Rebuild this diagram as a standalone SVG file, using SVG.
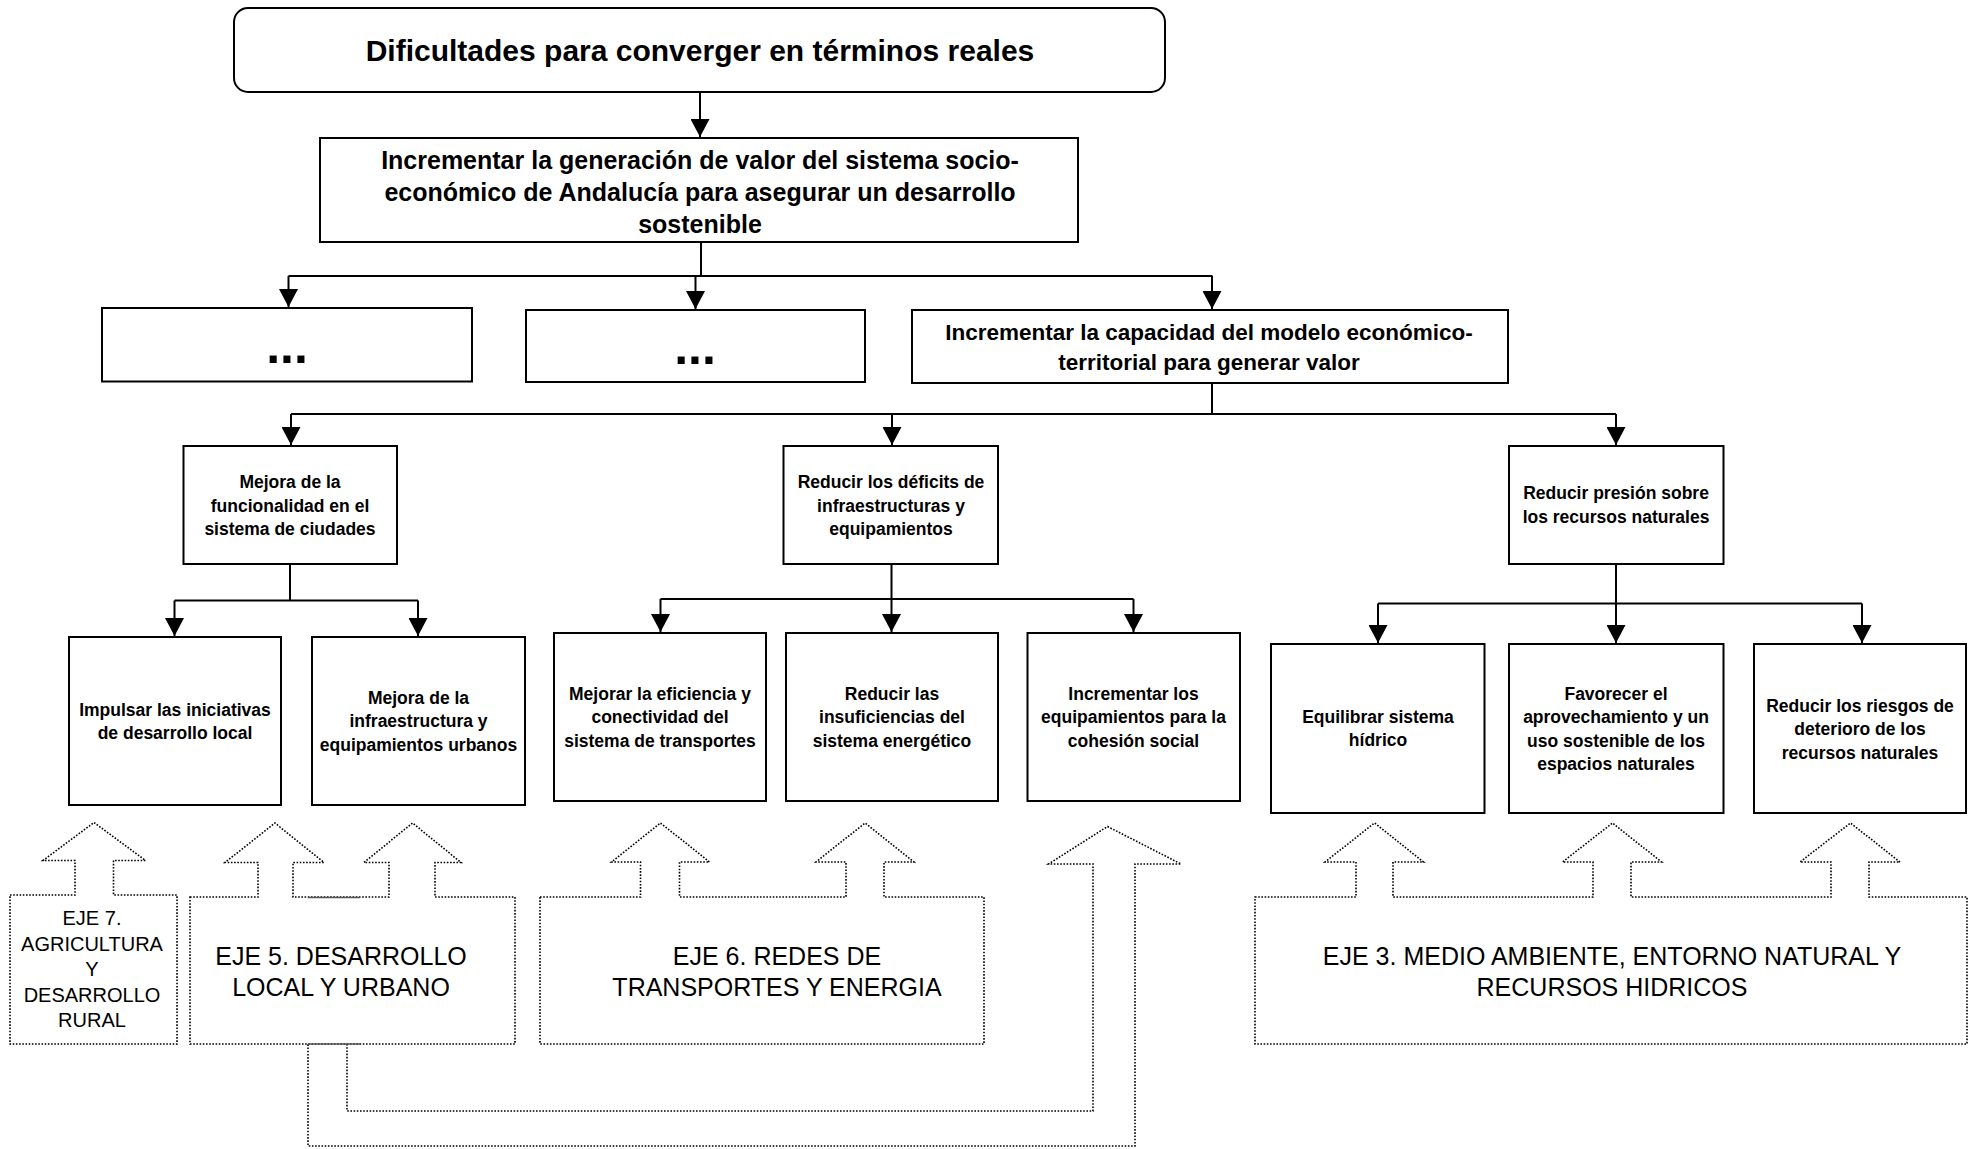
<svg xmlns="http://www.w3.org/2000/svg" width="1970" height="1149" viewBox="0 0 1970 1149">
<style>
.box{fill:#fff;stroke:#000;stroke-width:2}
.t{font-family:"Liberation Sans",Arial,sans-serif;font-weight:bold;fill:#000;text-anchor:middle}
.r{font-family:"Liberation Sans",Arial,sans-serif;fill:#000;text-anchor:middle}
.s{font-size:17.5px}
.c{fill:none;stroke:#000;stroke-width:2}
.a{fill:none;stroke:#000;stroke-width:2;marker-end:url(#ah)}
.dot{fill:#fff;stroke:#000;stroke-width:1.6;stroke-dasharray:1.6 1.6}
.dl{fill:none;stroke:#000;stroke-width:1.6;stroke-dasharray:1.6 1.6}
.mk{stroke:#555;stroke-width:1.5;fill:none}
</style>
<defs>
<marker id="ah" markerUnits="userSpaceOnUse" markerWidth="19" markerHeight="19" refX="18" refY="9.5" orient="auto">
<path d="M0,0 L18,9.5 L0,19 z" fill="#000"/>
</marker>
</defs>

<g id="connectors">
<path class="a" d="M700,92 V137"/>
<path class="c" d="M701,242 V276 M288.5,276 H1212.5"/>
<path class="a" d="M288.5,276 V307"/>
<path class="a" d="M695.5,276 V309"/>
<path class="a" d="M1212,276 V309"/>
<path class="c" d="M1212,383 V414 M291,414 H1616"/>
<path class="a" d="M291,414 V445"/>
<path class="a" d="M892,414 V445"/>
<path class="a" d="M1616,414 V445"/>
<path class="c" d="M290,564 V600.5 M174.5,600.5 H418"/>
<path class="a" d="M174.5,600.5 V636"/>
<path class="a" d="M418,600.5 V636"/>
<path class="c" d="M891.5,564 V599 M660.5,599 H1133.5"/>
<path class="a" d="M660.5,599 V632"/>
<path class="a" d="M891.5,599 V632"/>
<path class="a" d="M1133.5,599 V632"/>
<path class="c" d="M1616,564 V603.5 M1378,603.5 H1862"/>
<path class="a" d="M1378,603.5 V643"/>
<path class="a" d="M1616,603.5 V643"/>
<path class="a" d="M1862,603.5 V643"/>
<path id="eje5-to-k" class="dl" d="M347,1044 V1111 H1093 V864 H1048.5 L1107.5,826.5 L1181,864 H1135 V1146 H308 V1044"/>
</g>

<g id="n-title">
<rect class="box" x="234" y="8" width="931" height="84" rx="14"/>
<text class="t" x="700" y="61" font-size="30">Dificultades para converger en términos reales</text>
</g>
<g id="n-valor">
<rect class="box" x="320" y="138" width="758" height="104"/>
<text class="t" font-size="25"><tspan x="700" y="169">Incrementar la generación de valor del sistema socio-</tspan><tspan x="700" y="201">económico de Andalucía para asegurar un desarrollo</tspan><tspan x="700" y="233">sostenible</tspan></text>
</g>
<g id="n-dots1">
<rect class="box" x="102" y="308" width="370" height="73.5"/>
<text class="t" x="287" y="363" font-size="50">...</text>
</g>
<g id="n-dots2">
<rect class="box" x="526" y="310" width="339" height="72"/>
<text class="t" x="695" y="364" font-size="50">...</text>
</g>
<g id="n-capacidad">
<rect class="box" x="912" y="310" width="596" height="73"/>
<text class="t" font-size="22.5"><tspan x="1209" y="340">Incrementar la capacidad del modelo económico-</tspan><tspan x="1209" y="370">territorial para generar valor</tspan></text>
</g>
<g id="n-funcionalidad">
<rect class="box" x="183.5" y="446" width="213.5" height="118"/>
<text class="t s"><tspan x="290" y="488">Mejora de la</tspan><tspan x="290" y="511.5">funcionalidad en el</tspan><tspan x="290" y="535">sistema de ciudades</tspan></text>
</g>
<g id="n-deficits">
<rect class="box" x="783.5" y="446" width="214.5" height="118"/>
<text class="t s"><tspan x="891" y="488">Reducir los déficits de</tspan><tspan x="891" y="511.5">infraestructuras y</tspan><tspan x="891" y="535">equipamientos</tspan></text>
</g>
<g id="n-presion">
<rect class="box" x="1509" y="446" width="214.5" height="118"/>
<text class="t s"><tspan x="1616" y="499">Reducir presión sobre</tspan><tspan x="1616" y="523">los recursos naturales</tspan></text>
</g>
<g id="n-local">
<rect class="box" x="69" y="637" width="212" height="168"/>
<text class="t s"><tspan x="175" y="715.5">Impulsar las iniciativas</tspan><tspan x="175" y="738.5">de desarrollo local</tspan></text>
</g>
<g id="n-urbanos">
<rect class="box" x="312" y="637" width="213" height="168"/>
<text class="t s"><tspan x="418.5" y="703.5">Mejora de la</tspan><tspan x="418.5" y="727">infraestructura y</tspan><tspan x="418.5" y="750.5">equipamientos urbanos</tspan></text>
</g>
<g id="n-transportes">
<rect class="box" x="554" y="633" width="212" height="168"/>
<text class="t s"><tspan x="660" y="699.5">Mejorar la eficiencia y</tspan><tspan x="660" y="723">conectividad del</tspan><tspan x="660" y="746.5">sistema de transportes</tspan></text>
</g>
<g id="n-energetico">
<rect class="box" x="786" y="633" width="212" height="168"/>
<text class="t s"><tspan x="892" y="699.5">Reducir las</tspan><tspan x="892" y="723">insuficiencias del</tspan><tspan x="892" y="746.5">sistema energético</tspan></text>
</g>
<g id="n-cohesion">
<rect class="box" x="1027.5" y="633" width="212.5" height="168"/>
<text class="t s"><tspan x="1133.5" y="699.5">Incrementar los</tspan><tspan x="1133.5" y="723">equipamientos para la</tspan><tspan x="1133.5" y="746.5">cohesión social</tspan></text>
</g>
<g id="n-hidrico">
<rect class="box" x="1271" y="644" width="213.5" height="169"/>
<text class="t s"><tspan x="1378" y="722.5">Equilibrar sistema</tspan><tspan x="1378" y="746">hídrico</tspan></text>
</g>
<g id="n-espacios">
<rect class="box" x="1509" y="644" width="214.5" height="169"/>
<text class="t s"><tspan x="1616" y="699.5">Favorecer el</tspan><tspan x="1616" y="723">aprovechamiento y un</tspan><tspan x="1616" y="746.5">uso sostenible de los</tspan><tspan x="1616" y="770">espacios naturales</tspan></text>
</g>
<g id="n-riesgos">
<rect class="box" x="1754" y="644" width="212" height="169"/>
<text class="t s"><tspan x="1860" y="711.5">Reducir los riesgos de</tspan><tspan x="1860" y="735">deterioro de los</tspan><tspan x="1860" y="758.5">recursos naturales</tspan></text>
</g>

<g id="eje7">
<path class="dot" d="M10,895 H75 V860.5 H43 L94,822.5 L145.5,860.5 H113.5 V895 H177 V1044 H10 Z"/>
<text class="r" font-size="20"><tspan x="92" y="925">EJE 7.</tspan><tspan x="92" y="950.5">AGRICULTURA</tspan><tspan x="92" y="976">Y</tspan><tspan x="92" y="1001.5">DESARROLLO</tspan><tspan x="92" y="1027">RURAL</tspan></text>
</g>
<g id="eje5">
<path class="dot" d="M190,897 H258 V862.5 H225 L275,823 L324,862.5 H293 V897 H389 V862.5 H364 L412.5,823 L461,862.5 H435 V897 H515 V1044 H190 Z"/>
<path class="mk" d="M308,897.5 H360 M308,1044 H360"/>
<text class="r" font-size="25"><tspan x="341" y="965">EJE 5. DESARROLLO</tspan><tspan x="341" y="995.5">LOCAL Y URBANO</tspan></text>
</g>
<g id="eje6">
<path class="dot" d="M540,897 H640.5 V862 H611.5 L660.5,823 L709.5,862 H679.5 V897 H846 V862 H816 L865,823 L914,862 H884 V897 H984 V1044 H540 Z"/>
<text class="r" font-size="25"><tspan x="777" y="965">EJE 6. REDES DE</tspan><tspan x="777" y="995.5">TRANSPORTES Y ENERGIA</tspan></text>
</g>
<g id="eje3">
<path class="dot" d="M1255,897 H1356 V862 H1325 L1374.5,823 L1423.5,862 H1393 V897 H1593 V862 H1562.5 L1612.5,823 L1661.5,862 H1631 V897 H1831 V862 H1800 L1850.5,823 L1900,862 H1869 V897 H1967 V1044 H1255 Z"/>
<text class="r" font-size="25"><tspan x="1612" y="965">EJE 3. MEDIO AMBIENTE, ENTORNO NATURAL Y</tspan><tspan x="1612" y="995.5">RECURSOS HIDRICOS</tspan></text>
</g>
</svg>
